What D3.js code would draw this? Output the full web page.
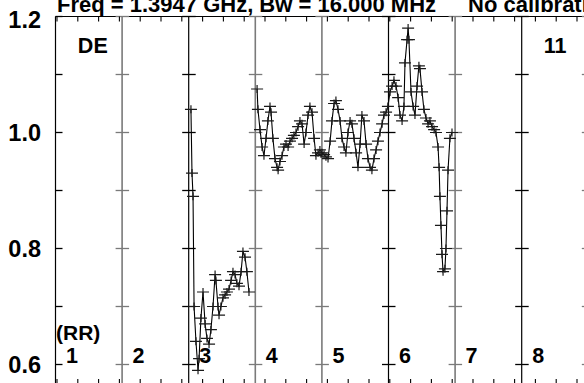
<!DOCTYPE html>
<html><head><meta charset="utf-8">
<script src="https://cdn.jsdelivr.net/npm/d3@7/dist/d3.min.js"></script>
<style>
body{margin:0;background:#fff;overflow:hidden}
svg{display:block}
text{font-family:"Liberation Sans",Arial,Helvetica,sans-serif;font-weight:bold;fill:#000}
</style></head>
<body><svg id="chart" width="584" height="383"></svg>
<script>
// ---------------- data ----------------
const titleMain = "Freq = 1.3947 GHz, Bw = 16.000 MHz";
const titleNote = "No calibration";
const stokesLabel = "(RR)";
const antennaLabel = "DE";
const baselineLabel = "11";
const panelLabels = ["1","2","3","4","5","6","7","8","9"];
const panelDark = [true,false,true,false,false,true,false,true,false];
const yTickValues = [0.6,0.7,0.8,0.9,1.0,1.1,1.2];
const yTickLabels = ["0.6","0.8","1.0","1.2"];
const timeTicks = d3.range(0, 260, 10);   // minutes

// scan A (panel 3)
const timesA = [64.4,64.9,65.4,65.9,66.8,67.8,68.3,69.2,70.2,71.2,72.1,73.1,74.0,75.0,76.0,76.4,
  77.4,77.9,78.8,79.8,80.8,81.7,82.7,83.7,84.6,85.6,86.5,87.5,88.5,89.4,90.4,91.3,92.3];
const valuesA = [1.04,0.93,0.89,0.70,0.64,0.59,0.61,0.68,0.725,0.67,0.645,0.635,0.66,0.70,0.755,0.745,
  0.70,0.685,0.70,0.715,0.72,0.725,0.73,0.745,0.76,0.755,0.74,0.735,0.76,0.795,0.785,0.76,0.725];

// scan B (panels 4-6)
const timesB = [96.2,96.6,97.6,98.6,99.5,100.5,101.4,102.4,102.9,103.8,104.8,105.8,106.3,107.2,108.2,109.1,
  110.1,111.1,112.0,113.0,113.9,114.9,115.9,116.8,117.8,118.8,119.7,120.7,121.6,122.6,123.6,124.5,
  125.5,126.4,127.4,128.4,129.3,130.3,131.3,132.2,133.2,134.1,135.1,136.1,137.0,138.0,138.9,139.9,
  140.9,141.8,142.8,143.8,144.7,145.7,146.6,147.6,148.6,149.5,150.5,151.4,152.4,153.4,154.3,155.3,
  156.3,157.2,158.2,159.1,160.1,161.1,162.0,163.0,164.0,164.9,165.9,166.8,167.3,168.3,168.8,169.2,
  170.2,171.2,172.1,173.1,174.0,174.5,175.5,176.4,177.4,178.4,179.3,180.3,181.3,182.2,183.2,183.7,
  184.1,184.6,185.1,185.6,186.5,187.0,187.5,188.0,188.9,189.9];
const valuesB = [1.075,1.04,1.005,0.975,0.96,0.99,1.02,1.045,1.035,0.99,0.955,0.94,0.935,0.95,0.96,0.975,
  0.98,0.975,0.985,0.99,0.995,1.0,1.01,1.02,1.015,0.98,1.0,1.03,1.045,1.035,0.99,0.96,
  0.965,0.97,0.965,0.962,0.958,0.955,0.985,1.02,1.05,1.055,1.04,1.02,0.99,0.975,0.965,1.0,
  1.02,1.015,0.99,0.965,0.94,0.98,1.03,1.02,0.98,0.955,0.94,0.935,0.955,0.97,0.985,1.0,
  1.015,1.03,1.035,1.045,1.07,1.08,1.09,1.08,1.06,1.03,1.02,1.045,1.12,1.16,1.18,1.16,
  1.07,1.045,1.03,1.08,1.115,1.11,1.07,1.04,1.025,1.015,1.02,1.01,1.005,1.0,0.975,0.94,
  0.89,0.84,0.79,0.76,0.765,0.80,0.865,0.935,0.99,1.0];

// ---------------- chart ----------------
const W = 584, H = 383;
const frameLeft = 55.5, frameTop = 16.5, frameBottom = 386, panelW = 66.6;
const svg = d3.select("#chart");

const x = d3.scaleLinear().domain([0, 250]).range([57, 577]);
const y = d3.scaleLinear().domain([0.6, 1.2]).range([364.5, 16.5]);
const panel = d3.scaleBand().domain(panelLabels)
  .range([frameLeft, frameLeft + panelW * panelLabels.length]);

// frame
svg.append("line").attr("x1", frameLeft).attr("x2", W + 10).attr("y1", frameTop).attr("y2", frameTop)
  .attr("stroke", "#000").attr("stroke-width", 1.2);
svg.append("line").attr("x1", frameLeft).attr("x2", W + 10).attr("y1", frameBottom).attr("y2", frameBottom)
  .attr("stroke", "#000").attr("stroke-width", 1.2);

// separators
panelLabels.forEach((p, i) => {
  const sx = panel(p);
  const col = panelDark[i] ? "#000" : "#7a7a7a";
  const sw = panelDark[i] ? 1.2 : 1.6;
  svg.append("line").attr("x1", sx).attr("x2", sx).attr("y1", frameTop).attr("y2", frameBottom)
    .attr("stroke", col).attr("stroke-width", sw);
  yTickValues.forEach(v => {
    svg.append("line")
      .attr("x1", i === 0 ? sx : sx - 6.5).attr("x2", sx + 7)
      .attr("y1", y(v)).attr("y2", y(v))
      .attr("stroke", col).attr("stroke-width", 1.3);
  });
});

// time ticks (top and bottom)
const tg = svg.append("g");
timeTicks.forEach(t => {
  tg.append("line").attr("x1", x(t)).attr("x2", x(t)).attr("y1", frameTop).attr("y2", frameTop + 5)
    .attr("stroke", "#000").attr("stroke-width", 1.1);
  tg.append("line").attr("x1", x(t)).attr("x2", x(t)).attr("y1", frameBottom).attr("y2", frameBottom - 7)
    .attr("stroke", "#000").attr("stroke-width", 1.1);
});

// y labels
yTickLabels.forEach(s => {
  const v = +s;
  svg.append("text").attr("x", 41).attr("y", Math.max(y(v) + 8.5, 28))
    .attr("text-anchor", "end").attr("font-size", 23.5).text(s);
});

// title (cut at the top and right edge, as in the reference)
svg.append("text").attr("x", 57).attr("y", 12).attr("font-size", 22).text(titleMain);
svg.append("text").attr("x", 468).attr("y", 12).attr("font-size", 22).text(titleNote);

// panel labels (only those inside the picture)
panelLabels.filter(p => panel(p) + 25 < W).forEach(p => {
  svg.append("text").attr("x", panel(p) + 10.5).attr("y", 363).attr("font-size", 21.5).text(p);
});
svg.append("text").attr("x", frameLeft + 0.5).attr("y", 340).attr("font-size", 21).text(stokesLabel);
svg.append("text").attr("x", panel("1") + panelW / 2 + 4).attr("y", 53).attr("text-anchor", "middle")
  .attr("font-size", 21.5).text(antennaLabel);
svg.append("text").attr("x", panel("8") + panelW / 2).attr("y", 53).attr("text-anchor", "middle")
  .attr("font-size", 21.5).text(baselineLabel);

// data
const line = d3.line().x(d => x(d[0])).y(d => y(d[1]));
function drawScan(ts, vs) {
  const pts = ts.map((t, i) => [t, vs[i]]);
  svg.append("path").datum(pts).attr("d", line).attr("fill", "none")
    .attr("stroke", "#000").attr("stroke-width", 1.1);
  const g = svg.append("g");
  g.selectAll("path.m").data(pts).enter().append("path")
    .attr("d", d => {
      const px = x(d[0]), py = y(d[1]);
      return `M${px - 6},${py}H${px + 6}M${px},${py - 4}V${py + 4}`;
    })
    .attr("stroke", "#1a1a1a").attr("stroke-width", 1.2).attr("fill", "none");
}
drawScan(timesA, valuesA);
drawScan(timesB, valuesB);
</script>
</body></html>
